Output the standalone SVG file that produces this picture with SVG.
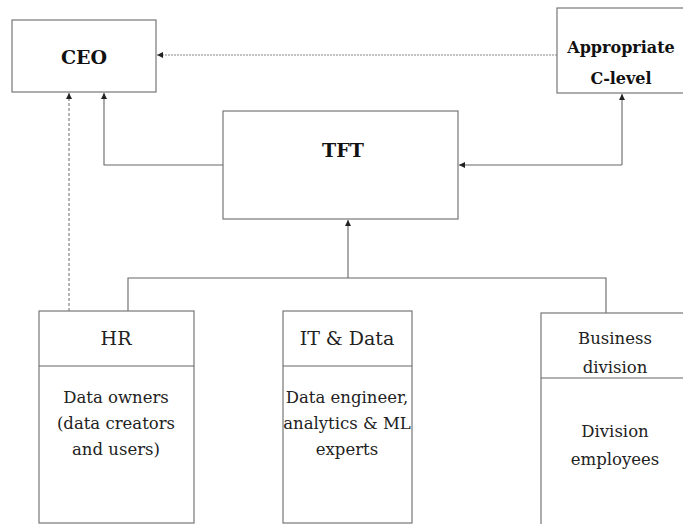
<svg xmlns="http://www.w3.org/2000/svg" width="683" height="524" viewBox="0 0 683 524">
<style>
.box{fill:#fff;stroke:#777;stroke-width:1.2}
.ln{fill:none;stroke:#666;stroke-width:1.1}
.dash{fill:none;stroke:#777;stroke-width:1.1;stroke-dasharray:3,2}
.dot{fill:none;stroke:#888;stroke-width:1.1;stroke-dasharray:2,1}
.b{font-family:"DejaVu Serif","Liberation Serif",serif;font-weight:bold;fill:#111;text-anchor:middle}
.t{font-family:"DejaVu Serif","Liberation Serif",serif;font-size:16.5px;fill:#222;text-anchor:middle}
.h{font-family:"DejaVu Serif","Liberation Serif",serif;font-size:19px;fill:#222;text-anchor:middle}
</style>
<defs>
<marker id="ah" viewBox="0 0 10 10" refX="10" refY="5" markerWidth="7" markerHeight="6" orient="auto" markerUnits="userSpaceOnUse">
<path d="M0,0 L10,5 L0,10 z" fill="#222"/>
</marker>
</defs>
<g id="connectors">
<path class="dot" d="M557,55 H157" marker-end="url(#ah)"/>
<path class="ln" d="M223,165 H104 V93" marker-end="url(#ah)"/>
<path class="dash" d="M69,311 V93" marker-end="url(#ah)"/>
<path class="ln" d="M622,165 H459" marker-end="url(#ah)"/>
<path class="ln" d="M622,165 V94" marker-end="url(#ah)"/>
<path class="ln" d="M348,278 V220" marker-end="url(#ah)"/>
<path class="ln" d="M128,311 V278 H606 V313"/>
</g>
<g id="ceo">
<rect class="box" x="12" y="20" width="144" height="72"/>
<text class="b" x="84" y="64" font-size="19">CEO</text>
</g>
<g id="clevel">
<rect class="box" x="557" y="8" width="130" height="85"/>
<text class="b" x="621" y="53" font-size="16">Appropriate</text>
<text class="b" x="621" y="84" font-size="16">C-level</text>
</g>
<g id="tft">
<rect class="box" x="223" y="111" width="235" height="108"/>
<text class="b" x="343" y="157" font-size="19">TFT</text>
</g>
<g id="hr">
<rect class="box" x="39" y="311" width="155" height="212"/>
<line class="ln" x1="39" y1="366" x2="194" y2="366"/>
<text class="h" x="116" y="345">HR</text>
<text class="t" x="116" y="403">Data owners</text>
<text class="t" x="116" y="429">(data creators</text>
<text class="t" x="116" y="455">and users)</text>
</g>
<g id="it">
<rect class="box" x="283" y="311" width="129" height="212"/>
<line class="ln" x1="283" y1="366" x2="412" y2="366"/>
<text class="h" x="347" y="345">IT &amp; Data</text>
<text class="t" x="347" y="403">Data engineer,</text>
<text class="t" x="347" y="429">analytics &amp; ML</text>
<text class="t" x="347" y="455">experts</text>
</g>
<g id="business">
<rect class="box" x="541" y="313" width="150" height="215"/>
<line class="ln" x1="541" y1="378" x2="691" y2="378"/>
<text class="t" x="615" y="344">Business</text>
<text class="t" x="615" y="373">division</text>
<text class="t" x="615" y="437">Division</text>
<text class="t" x="615" y="465">employees</text>
</g>
</svg>
